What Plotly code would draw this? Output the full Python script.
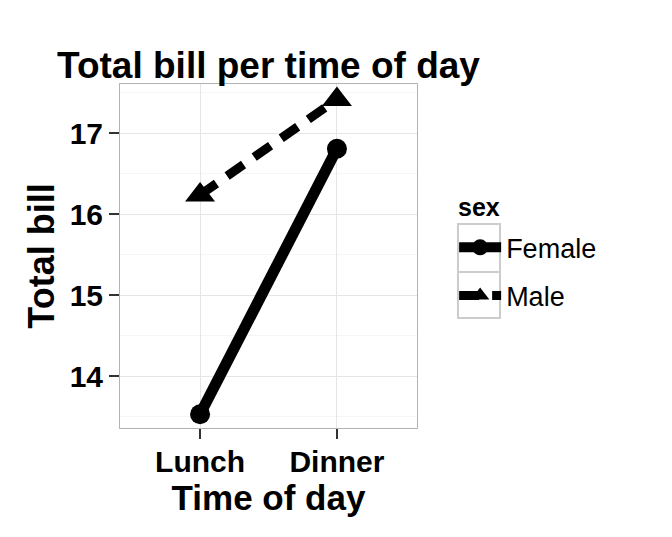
import plotly.graph_objects as go

# data
time_of_day = ["Lunch", "Dinner"]
female_bill = [13.53, 16.81]
male_bill = [16.24, 17.42]
y_ticks = [14, 15, 16, 17]

FONT = "Liberation Sans, Arial, sans-serif"

fig = go.Figure()

fig.add_trace(go.Scatter(
    x=time_of_day, y=female_bill, name="Female", legendgroup="f",
    mode="lines+markers",
    line=dict(color="black", width=11),
    marker=dict(symbol="circle", size=20, color="black"),
))
fig.add_trace(go.Scatter(
    x=time_of_day, y=male_bill, name="Male", legendgroup="m",
    mode="lines+markers",
    line=dict(color="black", width=9, dash="20px,13px"),
    marker=dict(symbol="triangle-up", size=26, color="black"),
))

# grey key boxes around legend entries (paper coords)
for y0, y1 in [(0.4535, 0.5930), (0.3198, 0.4535)]:
    fig.add_shape(type="rect", xref="paper", yref="paper",
                  x0=1.138, x1=1.2795, y0=y0, y1=y1,
                  line=dict(color="#cccccc", width=2), fillcolor="rgba(0,0,0,0)")

fig.add_annotation(text="<b>sex</b>", xref="paper", yref="paper",
                   x=1.13, y=(420 - 199) / 344, xanchor="left", yanchor="middle",
                   showarrow=False, font=dict(size=25, color="black"))

grid = "#e5e5e5"
fig.update_layout(
    width=672, height=537,
    margin=dict(l=112, r=263, t=76, b=117),
    paper_bgcolor="white",
    plot_bgcolor="white",
    font=dict(family=FONT, color="black"),
    title=dict(
        text="<b>Total bill per time of day</b>",
        x=0.5, xref="paper", xanchor="center",
        y=1 - 57 / 537, yanchor="middle",
        font=dict(size=37, color="black"),
    ),
    showlegend=True,
    legend=dict(
        font=dict(size=27),
        x=1.125, xanchor="left",
        y=0.595, yanchor="top",
        bgcolor="rgba(0,0,0,0)",
        itemsizing="trace",
        itemwidth=42,
        traceorder="grouped",
        tracegroupgap=10,
    ),
    xaxis=dict(
        type="category",
        range=[-0.585, 1.585],
        tickvals=time_of_day,
        ticktext=[f"<b>{t}</b>" for t in time_of_day],
        showgrid=True, gridcolor=grid, gridwidth=1,
        showline=True, linecolor="#b3b3b3", linewidth=1, mirror=True,
        ticks="outside", ticklen=10, tickcolor="#333333", tickwidth=2,
        tickfont=dict(size=30, family=FONT, color="black"),
        ticklabelstandoff=-3,
        title=dict(text="<b>Time of day</b>", font=dict(size=35), standoff=0),
        zeroline=False,
    ),
    yaxis=dict(
        range=[13.36, 17.61],
        tickvals=y_ticks,
        ticktext=[f"<b>{v}</b>" for v in y_ticks],
        showgrid=True, gridcolor=grid, gridwidth=1,
        minor=dict(dtick=0.5, showgrid=True, gridcolor="#f5f5f5", gridwidth=1),
        showline=True, linecolor="#b3b3b3", linewidth=1, mirror=True,
        ticks="outside", ticklen=10, tickcolor="#333333", tickwidth=2,
        tickfont=dict(size=30, family=FONT, color="black"),
        title=dict(text="<b>Total bill</b>", font=dict(size=36), standoff=4),
        zeroline=False,
    ),
)

fig.write_html("out.html")
